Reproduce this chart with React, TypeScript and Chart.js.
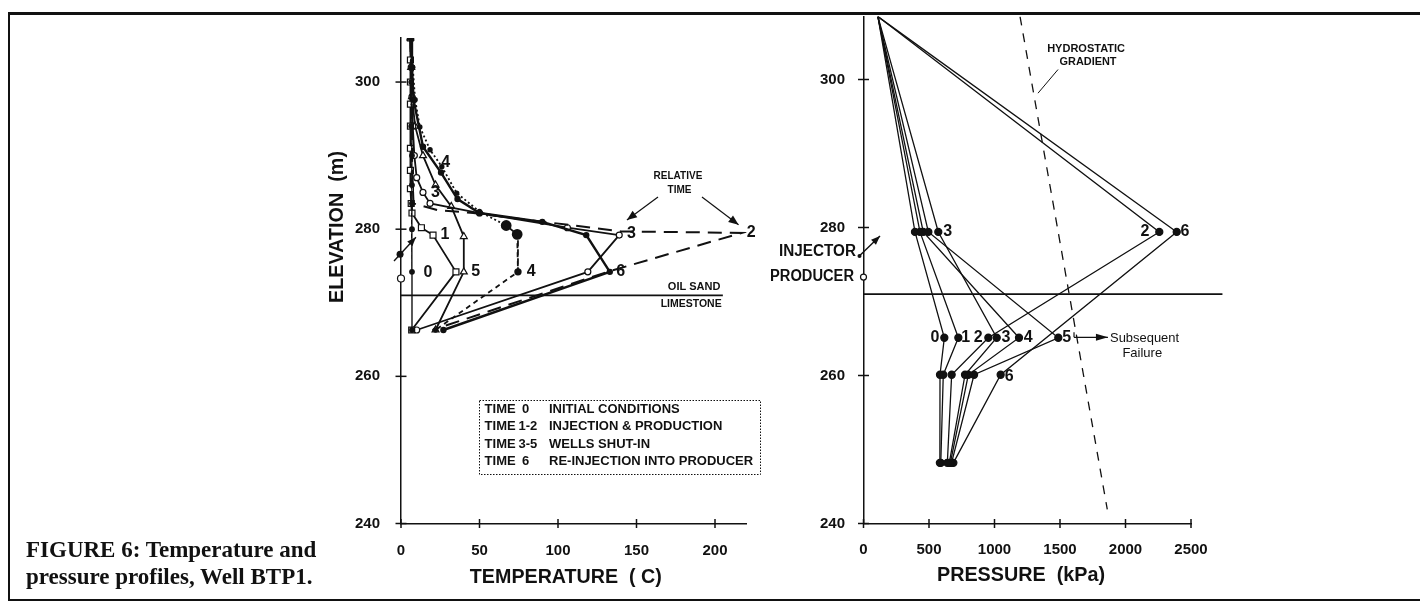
import React, { useEffect, useRef } from 'react';
import { Chart, registerables } from 'chart.js';

Chart.register(...registerables);

const INK = '#111111';
const SANS = '"Liberation Sans", Arial, Helvetica, sans-serif';

// ---------- axis ticks ----------
const ELEV_TICKS = [240, 260, 280, 300];
const TEMP_TICKS = [0, 50, 100, 150, 200];
const PRESS_TICKS = [0, 500, 1000, 1500, 2000, 2500];

// ---------- temperature profiles (elevation m, temperature C) ----------
const T0_ELEV = [306, 300, 294, 290, 286, 283.5, 280, 274.2, 266.3];
const T0_TEMP = [6, 6.5, 6.5, 7, 7, 7, 7, 7, 7];
const T1_ELEV = [306, 303, 300, 297, 294, 291, 288, 285.5, 283.5, 282.2, 280.2, 279.2, 274.2, 266.3];
const T1_TEMP = [6, 6, 6, 6, 6, 6, 6, 6, 6.5, 7, 13, 20.4, 35, 6.8];
const T2_ELEV = [306, 300, 294, 290, 286, 283.5, 282.6, 282.2, 279.7, 279.5, 274.3, 266.3];
const T2_TEMP = [6, 6.5, 7, 7, 7.5, 8, 23, 46, 140, 217, 133, 20];
const T3_ELEV = [306, 302, 298, 294, 290, 287, 285, 283.5, 282.2, 280.2, 279.2, 274.2, 266.3];
const T3_TEMP = [6, 6.5, 7, 7.5, 8.5, 10, 14, 18.5, 50, 106, 139, 119, 10];
const T4_ELEV = [306, 302, 297.6, 293.9, 290.8, 288.5, 284.9, 282.4, 280.5, 279.3, 274.2, 266.3];
const T4_TEMP = [6.5, 7.5, 9, 12, 18.5, 26, 35.5, 50, 67, 74, 74.5, 22];
const T5_ELEV = [306, 302, 298, 294, 290, 286, 283.1, 279, 274.2, 266.3];
const T5_TEMP = [6, 6.5, 7, 9, 14, 22, 32, 40, 40, 22];
const T6_ELEV = [306, 302, 297.6, 291.2, 287.7, 284.1, 282.2, 281, 279.2, 274.2, 266.3];
const T6_TEMP = [6.5, 7, 8, 14, 25.5, 36, 50, 90, 118, 133, 27];

const PRODUCER_ELEV = 273.3;
const INJECTOR_ELEV = 276.6;
const BOUNDARY_ELEV = 271;

// ---------- pressure profiles (elevation m, pressure kPa) ----------
const PRESS_ELEV = [308.5, 279.4, 265.1, 260.1, 248.2];
const P0 = [110, 393, 617, 584, 583];
const P1 = [110, 431, 724, 609, 590];
const P2 = [110, 2258, 953, 673, 640];
const P3 = [110, 571, 1017, 775, 655];
const P4 = [110, 456, 1187, 800, 663];
const P5 = [110, 495, 1487, 844, 672];
const P6_ELEV = [308.5, 279.4, 260.1, 248.2];
const P6 = [110, 2391, 1047, 686];
const HYDRO_ELEV = [308.5, 241.9];
const HYDRO_P = [1195, 1861];

// ---------- annotation labels (data coordinates) ----------
const LEFT_LABELS = [
  { t: '0', x: 17.2, y: 274.05 },
  { t: '1', x: 28, y: 279.2 },
  { t: '5', x: 47.5, y: 274.2 },
  { t: '4', x: 83, y: 274.2 },
  { t: '3', x: 146.8, y: 279.45 },
  { t: '6', x: 140, y: 274.2 },
  { t: '2', x: 223, y: 279.5 },
  { t: '4', x: 28.4, y: 289.1 },
  { t: '3', x: 22, y: 285 },
];
const RIGHT_LABELS = [
  { t: '0', x: 546, y: 265.1 },
  { t: '1', x: 780, y: 265.1 },
  { t: '2', x: 876, y: 265.1 },
  { t: '3', x: 1088, y: 265.1 },
  { t: '4', x: 1258, y: 265.1 },
  { t: '5', x: 1551, y: 265.1 },
  { t: '6', x: 1113, y: 259.8 },
  { t: '3', x: 643, y: 279.4 },
  { t: '2', x: 2149, y: 279.4 },
  { t: '6', x: 2454, y: 279.4 },
];
const LEGEND_ROWS = [
  ['TIME', '0', 'INITIAL CONDITIONS'],
  ['TIME', '1-2', 'INJECTION & PRODUCTION'],
  ['TIME', '3-5', 'WELLS SHUT-IN'],
  ['TIME', '6', 'RE-INJECTION INTO PRODUCER'],
];

const pts = (xs: number[], ys: number[]) => xs.map((x, i) => ({ x, y: ys[i] }));

function series(xs: number[], ys: number[], extra: any) {
  return {
    data: pts(xs, ys),
    showLine: true,
    borderColor: INK,
    borderWidth: 1.6,
    pointRadius: 0,
    pointBorderColor: INK,
    pointBackgroundColor: INK,
    ...extra,
  };
}

function text(ctx: CanvasRenderingContext2D, s: string, x: number, y: number, font: string, align: CanvasTextAlign = 'center', maxW?: number) {
  ctx.font = font;
  ctx.textAlign = align;
  ctx.textBaseline = 'middle';
  ctx.fillStyle = INK;
  if (maxW) ctx.fillText(s, x, y, maxW);
  else ctx.fillText(s, x, y);
}

function seg(ctx: CanvasRenderingContext2D, x1: number, y1: number, x2: number, y2: number) {
  ctx.beginPath();
  ctx.moveTo(x1, y1);
  ctx.lineTo(x2, y2);
  ctx.stroke();
}

function arrow(ctx: CanvasRenderingContext2D, x1: number, y1: number, x2: number, y2: number, head = 9, hw = 3.5) {
  seg(ctx, x1, y1, x2, y2);
  const a = Math.atan2(y2 - y1, x2 - x1);
  ctx.beginPath();
  ctx.moveTo(x2, y2);
  ctx.lineTo(x2 - head * Math.cos(a) + hw * Math.sin(a), y2 - head * Math.sin(a) - hw * Math.cos(a));
  ctx.lineTo(x2 - head * Math.cos(a) - hw * Math.sin(a), y2 - head * Math.sin(a) + hw * Math.cos(a));
  ctx.closePath();
  ctx.fill();
}

function crossTicks(chart: any) {
  const { ctx, chartArea: ca, scales } = chart;
  ctx.save();
  ctx.strokeStyle = INK;
  ctx.lineWidth = 1.5;
  scales.x.ticks.forEach((t: any) => {
    const px = scales.x.getPixelForValue(t.value);
    seg(ctx, px, ca.bottom - 4.5, px, ca.bottom + 4.5);
  });
  scales.y.ticks.forEach((t: any) => {
    const py = scales.y.getPixelForValue(t.value);
    seg(ctx, ca.left - 5.5, py, ca.left + 5.5, py);
  });
  ctx.restore();
}

const leftDecor = {
  id: 'leftDecor',
  afterDraw(chart: any) {
    const { ctx, chartArea: ca, scales } = chart;
    const X = (v: number) => scales.x.getPixelForValue(v);
    const Y = (v: number) => scales.y.getPixelForValue(v);
    crossTicks(chart);
    ctx.save();
    ctx.strokeStyle = INK;
    ctx.fillStyle = INK;
    // axis titles
    ctx.save();
    ctx.translate(ca.left - 64, Y(280.3));
    ctx.rotate(-Math.PI / 2);
    text(ctx, 'ELEVATION  (m)', 0, 0, `bold 20px ${SANS}`, 'center', 152);
    ctx.restore();
    text(ctx, 'TEMPERATURE  ( C)', X(105), ca.bottom + 53.5, `bold 20px ${SANS}`, 'center', 192);
    // curve labels
    LEFT_LABELS.forEach((l) => text(ctx, l.t, X(l.x), Y(l.y), `bold 16px ${SANS}`));
    // relative time
    text(ctx, 'RELATIVE', X(176.4), Y(287.2), `bold 10px ${SANS}`, 'center', 50);
    text(ctx, 'TIME', X(177.4), Y(285.3), `bold 10px ${SANS}`, 'center', 26);
    ctx.lineWidth = 1.2;
    arrow(ctx, X(163.7), Y(284.37), X(143.9), Y(281.25), 10, 4);
    arrow(ctx, X(191.7), Y(284.37), X(215), Y(280.6), 10, 4);
    // oil sand / limestone
    text(ctx, 'OIL SAND', X(186.7), Y(272.14), `bold 11px ${SANS}`, 'center', 54);
    text(ctx, 'LIMESTONE', X(184.8), Y(269.83), `bold 11px ${SANS}`, 'center', 61);
    // injector arrow
    ctx.lineWidth = 1.4;
    arrow(ctx, X(-4.45), Y(275.68), X(9.5), Y(278.9), 9, 3.5);
    ctx.beginPath();
    ctx.arc(X(-0.6), Y(INJECTOR_ELEV), 3.5, 0, Math.PI * 2);
    ctx.fill();
    // legend box
    const bx = 479, by = 400, bw = 281, bh = 74;
    ctx.lineWidth = 1;
    ctx.setLineDash([1.5, 1.5]);
    ctx.strokeRect(bx + 0.5, by + 0.5, bw, bh);
    ctx.setLineDash([]);
    LEGEND_ROWS.forEach((r, i) => {
      const yy = 409.6 + i * 17.3;
      const f = `bold 13px ${SANS}`;
      text(ctx, r[0], 484.6, yy, f, 'left');
      text(ctx, r[1], r[1].length > 1 ? 518.5 : 522, yy, f, 'left');
      text(ctx, r[2], 549, yy, f, 'left', 206);
    });
    ctx.restore();
  },
};

const rightDecor = {
  id: 'rightDecor',
  afterDraw(chart: any) {
    const { ctx, chartArea: ca, scales } = chart;
    const X = (v: number) => scales.x.getPixelForValue(v);
    const Y = (v: number) => scales.y.getPixelForValue(v);
    crossTicks(chart);
    ctx.save();
    ctx.strokeStyle = INK;
    ctx.fillStyle = INK;
    text(ctx, 'PRESSURE  (kPa)', X(1202), ca.bottom + 51.5, `bold 20px ${SANS}`, 'center', 168);
    RIGHT_LABELS.forEach((l) => text(ctx, l.t, X(l.x), Y(l.y), `bold 16px ${SANS}`));
    text(ctx, 'INJECTOR', ca.left - 7.5, Y(276.8), `bold 16px ${SANS}`, 'right', 77);
    text(ctx, 'PRODUCER', ca.left - 9.5, Y(PRODUCER_ELEV), `bold 16px ${SANS}`, 'right', 84);
    ctx.lineWidth = 1.4;
    arrow(ctx, ca.left - 5, Y(276.05), ca.left + 16.5, Y(278.85), 9, 3.5);
    ctx.beginPath();
    ctx.arc(ca.left - 4, Y(276.15), 2, 0, Math.PI * 2);
    ctx.fill();
    // hydrostatic label
    text(ctx, 'HYDROSTATIC', X(1699), Y(304.1), `bold 11px ${SANS}`, 'center', 80);
    text(ctx, 'GRADIENT', X(1714), Y(302.4), `bold 11px ${SANS}`, 'center', 57);
    ctx.lineWidth = 1;
    seg(ctx, X(1485), Y(301.35), X(1332), Y(298.15));
    // subsequent failure
    ctx.lineWidth = 1.2;
    seg(ctx, X(1607), Y(265.16) - 5, X(1607), Y(265.16));
    arrow(ctx, X(1607), Y(265.16), X(1866), Y(265.16), 12, 3.5);
    text(ctx, 'Subsequent', X(1882), Y(265.05), `13px ${SANS}`, 'left', 69);
    text(ctx, 'Failure', X(2128), Y(263.0), `13px ${SANS}`, 'center');
    ctx.restore();
  },
};

function scaleOpts(min: number, max: number, ticks: number[], pad: number, size: number, isX: boolean) {
  return {
    type: 'linear',
    min,
    max,
    afterBuildTicks: (s: any) => {
      s.ticks = ticks.map((v) => ({ value: v }));
    },
    afterFit: (s: any) => {
      if (isX) s.height = size;
      else s.width = size;
      s.paddingTop = 0;
      s.paddingBottom = 0;
      s.paddingLeft = 0;
      s.paddingRight = 0;
    },
    grid: { display: false, drawTicks: false },
    border: { display: true, color: INK, width: 1.5 },
    ticks: {
      color: INK,
      padding: pad,
      font: { family: SANS, size: 15, weight: 'bold' },
      callback: (v: any) => String(v),
    },
  };
}

export default function App() {
  const leftRef = useRef<HTMLCanvasElement>(null);
  const rightRef = useRef<HTMLCanvasElement>(null);

  useEffect(() => {
    const open = { pointBackgroundColor: '#ffffff', pointBorderWidth: 1.2 };
    const left = new Chart(leftRef.current as HTMLCanvasElement, {
      type: 'scatter',
      data: {
        datasets: [
          series([0, 205], [BOUNDARY_ELEV, BOUNDARY_ELEV], { borderWidth: 1.6 }),
          series(T0_TEMP, T0_ELEV, {
            borderWidth: 1.4,
            pointRadius: 2.2,
            segment: { borderDash: (c: any) => (c.p0DataIndex >= 7 ? [] : [4, 3]) },
          }),
          series(T2_TEMP, T2_ELEV, { borderWidth: 2, borderDash: [14, 8] }),
          series(T4_TEMP, T4_ELEV, {
            borderWidth: 1.8,
            pointRadius: [1.8, 1.8, 1.8, 1.8, 1.8, 1.8, 1.8, 1.8, 4.5, 4.5, 2.8, 1.8],
            segment: {
              borderDash: (c: any) => (c.p0DataIndex < 8 ? [2, 2.5] : c.p0DataIndex === 8 ? [] : [5, 4]),
            },
          }),
          series(T6_TEMP, T6_ELEV, { borderWidth: 2.4, pointRadius: 2 }),
          series(T1_TEMP, T1_ELEV, { borderWidth: 1.8, pointStyle: 'rect', pointRadius: 4.2, ...open }),
          series(T3_TEMP, T3_ELEV, { borderWidth: 1.8, pointStyle: 'circle', pointRadius: 3, ...open }),
          series(T5_TEMP, T5_ELEV, { borderWidth: 1.8, pointStyle: 'triangle', pointRadius: 4, ...open }),
          series([0], [PRODUCER_ELEV], { showLine: false, pointRadius: 3.5, clip: false, ...open }),
        ],
      },
      options: {
        animation: false,
        responsive: false,
        maintainAspectRatio: false,
        events: [],
        layout: { padding: { left: 341, right: 673.6, top: 37.9, bottom: 0 } },
        plugins: { legend: { display: false }, tooltip: { enabled: false } },
        scales: {
          x: scaleOpts(0, 220, TEMP_TICKS, 18, 79.5, true) as any,
          y: scaleOpts(240, 306, ELEV_TICKS, 21, 60, false) as any,
        },
      },
      plugins: [leftDecor],
    });

    const dot = { pointRadius: [0, 3.5, 3.5, 3.5, 3.5], borderWidth: 1.3 };
    const right = new Chart(rightRef.current as HTMLCanvasElement, {
      type: 'scatter',
      data: {
        datasets: [
          series([0, 2740], [BOUNDARY_ELEV, BOUNDARY_ELEV], { borderWidth: 1.6, clip: false }),
          series(HYDRO_P, HYDRO_ELEV, { borderWidth: 1.3, borderDash: [9, 8] }),
          series(P0, PRESS_ELEV, dot),
          series(P1, PRESS_ELEV, dot),
          series(P2, PRESS_ELEV, dot),
          series(P3, PRESS_ELEV, dot),
          series(P4, PRESS_ELEV, dot),
          series(P5, PRESS_ELEV, dot),
          series(P6, P6_ELEV, { pointRadius: [0, 3.5, 3.5, 3.5], borderWidth: 1.3 }),
          series([0], [PRODUCER_ELEV], { showLine: false, pointRadius: 3, clip: false, ...open }),
        ],
      },
      options: {
        animation: false,
        responsive: false,
        maintainAspectRatio: false,
        events: [],
        layout: { padding: { left: 803.5, right: 229, top: 16.6, bottom: 0 } },
        plugins: { legend: { display: false }, tooltip: { enabled: false } },
        scales: {
          x: scaleOpts(0, 2500, PRESS_TICKS, 17, 79.5, true) as any,
          y: scaleOpts(240, 308.5, ELEV_TICKS, 18.5, 60, false) as any,
        },
      },
      plugins: [rightDecor],
    });

    return () => {
      left.destroy();
      right.destroy();
    };
  }, []);

  const abs: React.CSSProperties = { position: 'absolute', left: 0, top: 0 };
  return (
    <div style={{ position: 'fixed', left: 0, top: 0, width: 1420, height: 603, background: '#fff', overflow: 'hidden' }}>
      <div style={{ position: 'absolute', left: 8, top: 12, width: 1420, height: 3, background: INK }} />
      <div style={{ position: 'absolute', left: 8, top: 12, width: 2, height: 589, background: INK }} />
      <div style={{ position: 'absolute', left: 8, top: 599, width: 1420, height: 2, background: INK }} />
      <canvas ref={leftRef} width={1420} height={603} style={{ ...abs, width: 1420, height: 603 }} />
      <canvas ref={rightRef} width={1420} height={603} style={{ ...abs, width: 1420, height: 603 }} />
      <div
        style={{
          position: 'absolute',
          left: 26,
          top: 536,
          fontFamily: '"Liberation Serif", "Times New Roman", serif',
          fontWeight: 'bold',
          fontSize: 23,
          lineHeight: '27px',
          color: INK,
          whiteSpace: 'nowrap',
        }}
      >
        FIGURE 6: Temperature and
        <br />
        pressure profiles, Well BTP1.
      </div>
    </div>
  );
}
